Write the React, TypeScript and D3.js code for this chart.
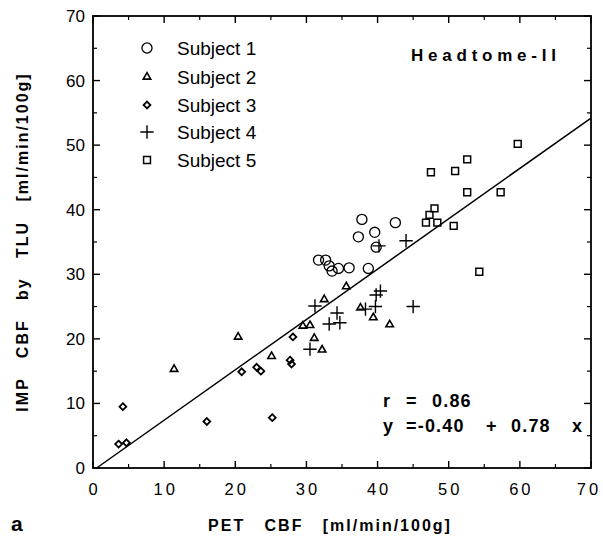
import React from "react";
import * as d3 from "d3";

// Subject data [PET CBF, IMP CBF]
const subject1X = [37.8, 42.5, 39.6, 37.3, 39.8, 31.7, 32.7, 33.2, 33.6, 34.5, 36.0, 38.7];
const subject1Y = [38.5, 38.0, 36.5, 35.8, 34.2, 32.2, 32.2, 31.3, 30.5, 30.9, 31.0, 30.9];
const subject2X = [35.6, 32.5, 39.4, 41.7, 29.5, 30.5, 31.1, 32.2, 25.1, 20.4, 11.4, 37.6];
const subject2Y = [28.1, 26.1, 23.3, 22.2, 22.0, 22.1, 20.1, 18.3, 17.3, 20.3, 15.3, 24.8];
const subject3X = [4.2, 3.6, 4.7, 16.0, 20.9, 23.0, 23.6, 25.2, 27.7, 27.9, 28.1];
const subject3Y = [9.5, 3.7, 3.9, 7.2, 14.9, 15.6, 15.0, 7.8, 16.7, 16.1, 20.3];
const subject4X = [44.0, 40.2, 39.8, 40.4, 39.7, 45.0, 31.2, 34.3, 33.2, 34.7, 30.5, 38.3];
const subject4Y = [35.2, 34.4, 26.8, 27.4, 25.0, 25.0, 25.1, 24.0, 22.3, 22.5, 18.4, 24.6];
const subject5X = [59.7, 52.6, 50.9, 47.5, 52.6, 57.3, 48.0, 47.3, 46.8, 48.4, 50.7, 54.3];
const subject5Y = [50.2, 47.8, 46.0, 45.8, 42.7, 42.7, 40.2, 39.2, 38.0, 38.0, 37.5, 30.4];

const subjectNames = ["Subject 1", "Subject 2", "Subject 3", "Subject 4", "Subject 5"];
const tickValues = [0, 10, 20, 30, 40, 50, 60, 70];
const minorTicks = [5, 15, 25, 35, 45, 55, 65];
const intercept = -0.4;
const slope = 0.78;

const W = 603, H = 538;
const L = 93, R = 591, T = 16, B = 468;

export default function App() {
  const x = d3.scaleLinear().domain([0, 70]).range([L, R]);
  const y = d3.scaleLinear().domain([0, 70]).range([B, T]);

  const series = [
    { xs: subject1X, ys: subject1Y, type: d3.symbolCircle, size: 80, sw: 1.3 },
    { xs: subject2X, ys: subject2Y, type: d3.symbolTriangle2, size: 40, sw: 1.6 },
    { xs: subject3X, ys: subject3Y, type: d3.symbolDiamond2, size: 30, sw: 1.8 },
    { xs: subject4X, ys: subject4Y, type: d3.symbolPlus, size: 60, sw: 1.4 },
    { xs: subject5X, ys: subject5Y, type: d3.symbolSquare2, size: 60, sw: 1.5 },
  ];

  const x0 = -intercept / slope;
  const lineData: [number, number][] = [
    [x0, 0],
    [70, intercept + slope * 70],
  ];
  const lineGen = d3
    .line<[number, number]>()
    .x((d) => x(d[0]))
    .y((d) => y(d[1]));

  const font = "'Liberation Sans', Arial, Helvetica, sans-serif";
  const legendRows = [48, 77, 105, 132, 160];

  return (
    <svg
      width={W}
      height={H}
      style={{ position: "absolute", left: 0, top: 0, background: "#fff" }}
      fontFamily={font}
    >
      <rect x={0} y={0} width={W} height={H} fill="#fff" />
      {/* frame */}
      <rect x={L} y={T} width={R - L} height={B - T} fill="none" stroke="#000" strokeWidth={1.8} />
      {/* ticks */}
      {tickValues.map((v) => (
        <g key={"t" + v} stroke="#000" strokeWidth={1.4}>
          <line x1={x(v)} x2={x(v)} y1={B} y2={B - 7} />
          <line x1={x(v)} x2={x(v)} y1={T} y2={T + 7} />
          <line x1={L} x2={L + 7} y1={y(v)} y2={y(v)} />
          <line x1={R} x2={R - 7} y1={y(v)} y2={y(v)} />
        </g>
      ))}
      {minorTicks.map((v) => (
        <g key={"m" + v} stroke="#000" strokeWidth={1.2}>
          <line x1={x(v)} x2={x(v)} y1={B} y2={B - 4} />
          <line x1={x(v)} x2={x(v)} y1={T} y2={T + 4} />
          <line x1={L} x2={L + 4} y1={y(v)} y2={y(v)} />
          <line x1={R} x2={R - 4} y1={y(v)} y2={y(v)} />
        </g>
      ))}
      {/* tick labels */}
      {tickValues.map((v) => (
        <text
          key={"xl" + v}
          x={Math.min(x(v) + 1.5, W - 14)}
          y={495}
          fontSize={16.5}
          textAnchor="middle"
          letterSpacing={3}
        >
          {v}
        </text>
      ))}
      {tickValues.map((v) => (
        <text key={"yl" + v} x={85} y={y(v) + 6} fontSize={17} textAnchor="end">
          {v}
        </text>
      ))}
      {/* regression line */}
      <path d={lineGen(lineData) || ""} fill="none" stroke="#000" strokeWidth={1.5} />
      {/* points */}
      {series.map((s, si) =>
        s.xs.map((xv, i) => (
          <path
            key={si + "-" + i}
            d={d3.symbol().type(s.type).size(s.size)() || ""}
            transform={`translate(${x(xv)},${y(s.ys[i])})`}
            fill="none"
            stroke="#000"
            strokeWidth={s.sw}
          />
        ))
      )}
      {/* legend */}
      {series.map((s, si) => (
        <g key={"lg" + si}>
          <path
            d={d3.symbol().type(s.type).size(s.size)() || ""}
            transform={`translate(147,${legendRows[si]})`}
            fill="none"
            stroke="#000"
            strokeWidth={s.sw}
          />
          <text x={177} y={legendRows[si] + 7} fontSize={19}>
            {subjectNames[si]}
          </text>
        </g>
      ))}
      {/* Headtome label */}
      <text x={411} y={61} fontSize={17} fontWeight="bold" textLength={145} lengthAdjust="spacing">
        Headtome-II
      </text>
      {/* regression text */}
      <g fontSize={18} fontWeight="bold" letterSpacing={1.2}>
        <text x={383} y={407}>r</text>
        <text x={406} y={407}>=</text>
        <text x={432} y={407}>0.86</text>
        <text x={383} y={432}>y</text>
        <text x={406} y={432}>=-0.40</text>
        <text x={486} y={432}>+</text>
        <text x={511} y={432}>0.78</text>
        <text x={572} y={432}>x</text>
      </g>
      {/* axis titles */}
      <text
        x={330}
        y={531}
        fontSize={16}
        fontWeight="bold"
        textAnchor="middle"
        letterSpacing={2}
        style={{ whiteSpace: "pre" }}
      >
        {"PET   CBF   [ml/min/100g]"}
      </text>
      <text
        transform={`translate(28,${(T + B) / 2}) rotate(-90)`}
        fontSize={16}
        fontWeight="bold"
        textAnchor="middle"
        letterSpacing={2}
        style={{ whiteSpace: "pre" }}
      >
        {"IMP   CBF   by   TLU   [ml/min/100g]"}
      </text>
      <text x={11} y={531} fontSize={21} fontWeight="bold">
        a
      </text>
    </svg>
  );
}
